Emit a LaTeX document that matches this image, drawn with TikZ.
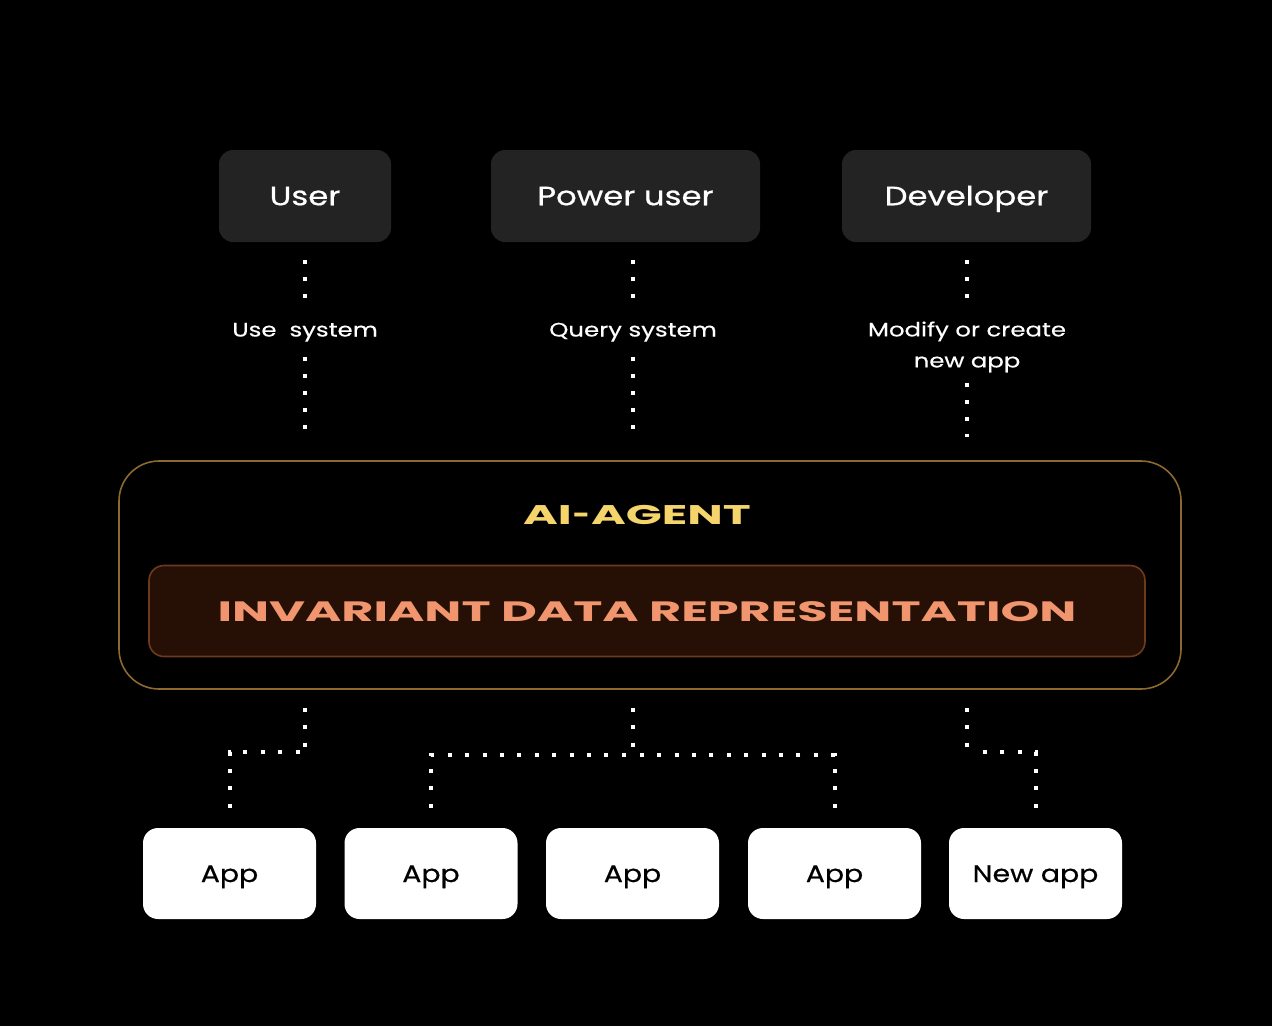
\documentclass[tikz,border=0pt]{standalone}
\usepackage{fontspec}
\setmainfont{Poppins}
\newfontfamily\rolefont[FakeStretch=1.22,FakeBold=0.6]{Poppins}
\newfontfamily\lblfont[FakeStretch=1.25,FakeBold=0.4]{Poppins}
\newfontfamily\appfont[FakeStretch=1.18,FakeBold=0.6]{Poppins}
\newfontfamily\widefont[FakeStretch=1.75]{Poppins}
\newfontfamily\hyphfont[FakeStretch=1.1]{Poppins}
\newfontfamily\irepfont[FakeStretch=1.76]{Poppins}
\usetikzlibrary{calc}
\definecolor{rolebg}{HTML}{232323}
\definecolor{agentline}{HTML}{8C6A2F}
\definecolor{irepbg}{HTML}{261006}
\definecolor{irepline}{HTML}{6E3A1E}
\definecolor{agenttext}{HTML}{F6D46C}
\definecolor{ireptext}{HTML}{F0956E}
\begin{document}
\begin{tikzpicture}[x=1pt,y=-1pt,
  role/.style={fill=rolebg, rounded corners=14pt, minimum height=92pt, inner sep=0pt,
    text=white, text height=18.5pt, text depth=0pt, font=\rolefont\fontsize{26.5}{30}\selectfont},
  lbl/.style={text=white, inner sep=0pt, minimum height=24pt, text height=14pt, text depth=3pt,
    font=\lblfont\fontsize{19.5}{31}\selectfont},
  lbltwo/.style={text=white, inner sep=0pt, minimum height=56pt, align=center,
    font=\lblfont\fontsize{19.5}{31}\selectfont},
  dotline/.style={draw=white, line width=4pt, dash pattern=on 4pt off 13pt},
  dotlineb/.style={draw=white, line width=4pt, dash pattern=on 4pt off 13.4pt},
  app/.style={fill=white, rounded corners=15pt, minimum width=173pt, minimum height=91pt,
    inner sep=0pt, text height=17pt, text depth=0pt, text=black,
    font=\appfont\fontsize{24}{28}\selectfont}
]
\fill[black] (0,0) rectangle (1272,1026);
\useasboundingbox (0,0) rectangle (1272,1026);

% roles
\node[role, minimum width=172pt] (user) at (305,196) {User};
\node[role, minimum width=269pt] (power) at (625.5,196) {Power user};
\node[role, minimum width=249pt] (dev) at (966.5,196) {Developer};

% labels
\node[lbl] (l1) at (305,331) {Use\ \ system};
\node[lbl] (l2) at (633,331) {Query system};
\node[lbltwo] (l3) at (967,347) {Modify or create\\new app};

% agent
\node[draw=agentline, line width=1.6pt, rounded corners=40pt, minimum width=1062pt,
  minimum height=228pt, inner sep=0pt] (agent) at (650,575) {};
\node[text=agenttext, inner sep=0pt, text height=19pt, text depth=0pt,
  font=\widefont\bfseries\fontsize{27}{30}\selectfont] (title) at (637,514.5)
  {AI{\hyphfont\bfseries\kern1pt-\kern1pt}AGENT};
\node[draw=irepline, fill=irepbg, line width=1.6pt, rounded corners=15pt, minimum width=996pt,
  minimum height=91pt, inner sep=0pt, text=ireptext, text height=20pt, text depth=0pt,
  font=\irepfont\bfseries\fontsize{28}{30}\selectfont] (irep) at (647,611) {INVARIANT DATA REPRESENTATION};

% apps
\node[app] (app1) at (229.5,873.5) {App};
\node[app] (app2) at (431,873.5) {App};
\node[app] (app3) at (632.5,873.5) {App};
\node[app] (app4) at (834.5,873.5) {App};
\node[app] (app5) at (1035.5,873.5) {New app};

% top connectors
\draw[dotline, shorten <=18pt, shorten >=21pt] (user.south) -- (l1.north);
\draw[dotline, shorten <=14pt, shorten >=31pt] (l1.south) -- (agent.north -| l1);
\draw[dotline, shorten <=18pt, shorten >=21pt] (l2.north |- power.south) -- (l2.north);
\draw[dotline, shorten <=14pt, shorten >=31pt] (l2.south) -- (agent.north -| l2);
\draw[dotline, shorten <=18pt, shorten >=21pt] (dev.south -| l3) -- (l3.north);
\draw[dotline, shorten <=8pt, shorten >=23pt] (l3.south) -- (agent.north -| l3);

% bottom connectors
\coordinate (j1) at (305,752);
\coordinate (j2) at (633,755);
\coordinate (j3) at (967,752);
\draw[dotlineb, shorten <=18pt] (agent.south -| j1) -- (j1);
\draw[dotlineb, shorten <=20pt, shorten >=5pt] (app1.north) |- (j1);
\draw[dotlineb, shorten <=18pt] (agent.south -| j2) -- (j2);
\draw[dotlineb, shorten <=20pt, shorten >=5pt] (app2.north) |- (j2);
\draw[dotlineb, shorten <=20pt, shorten >=5pt] (app4.north) |- (j2);
\draw[dotlineb, shorten <=18pt] (agent.south -| j3) -- (j3);
\draw[dotlineb, shorten <=20pt, shorten >=5pt] (app5.north) |- (j3);
\end{tikzpicture}
\end{document}
